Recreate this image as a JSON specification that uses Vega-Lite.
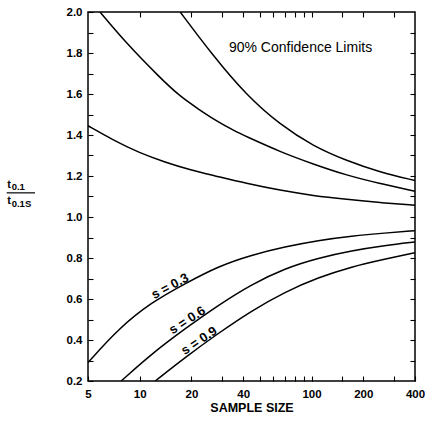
{
  "$schema": "https://vega.github.io/schema/vega-lite/v6.json",
  "width": 327,
  "height": 369,
  "autosize": "none",
  "padding": {"left": 88, "top": 12, "right": 10, "bottom": 43},
  "background": "white",
  "config": {
    "view": {"stroke": "black", "strokeWidth": 1.5},
    "font": "Liberation Sans"
  },
  "datasets": {
    "curves": [
      {"curve": "u03", "n": 5, "r": 1.445},
      {"curve": "u03", "n": 7, "r": 1.375},
      {"curve": "u03", "n": 10, "r": 1.312},
      {"curve": "u03", "n": 14, "r": 1.268},
      {"curve": "u03", "n": 20, "r": 1.228},
      {"curve": "u03", "n": 26.8, "r": 1.203},
      {"curve": "u03", "n": 41.9, "r": 1.163},
      {"curve": "u03", "n": 65.6, "r": 1.13},
      {"curve": "u03", "n": 102.4, "r": 1.104},
      {"curve": "u03", "n": 160.3, "r": 1.086},
      {"curve": "u03", "n": 250.5, "r": 1.07},
      {"curve": "u03", "n": 400, "r": 1.057},

      {"curve": "u06", "n": 5.87, "r": 2.0},
      {"curve": "u06", "n": 8.4, "r": 1.845},
      {"curve": "u06", "n": 13.1, "r": 1.68},
      {"curve": "u06", "n": 17.2, "r": 1.587},
      {"curve": "u06", "n": 22.4, "r": 1.522},
      {"curve": "u06", "n": 26.8, "r": 1.478},
      {"curve": "u06", "n": 35.9, "r": 1.418},
      {"curve": "u06", "n": 41.9, "r": 1.392},
      {"curve": "u06", "n": 65.6, "r": 1.318},
      {"curve": "u06", "n": 102.4, "r": 1.258},
      {"curve": "u06", "n": 160.3, "r": 1.203},
      {"curve": "u06", "n": 250.5, "r": 1.163},
      {"curve": "u06", "n": 400, "r": 1.125},

      {"curve": "u09", "n": 17.2, "r": 2.0},
      {"curve": "u09", "n": 26.8, "r": 1.785},
      {"curve": "u09", "n": 41.9, "r": 1.593},
      {"curve": "u09", "n": 65.6, "r": 1.45},
      {"curve": "u09", "n": 102.4, "r": 1.345},
      {"curve": "u09", "n": 160.3, "r": 1.274},
      {"curve": "u09", "n": 250.5, "r": 1.218},
      {"curve": "u09", "n": 400, "r": 1.178},

      {"curve": "l03", "n": 5, "r": 0.29},
      {"curve": "l03", "n": 7.5, "r": 0.455},
      {"curve": "l03", "n": 11.74, "r": 0.585},
      {"curve": "l03", "n": 18.35, "r": 0.675},
      {"curve": "l03", "n": 28.67, "r": 0.76},
      {"curve": "l03", "n": 44.8, "r": 0.815},
      {"curve": "l03", "n": 70.1, "r": 0.855},
      {"curve": "l03", "n": 109.5, "r": 0.886},
      {"curve": "l03", "n": 171.3, "r": 0.907},
      {"curve": "l03", "n": 267.8, "r": 0.922},
      {"curve": "l03", "n": 400, "r": 0.933},

      {"curve": "l06", "n": 7.8, "r": 0.2},
      {"curve": "l06", "n": 11.74, "r": 0.333},
      {"curve": "l06", "n": 18.35, "r": 0.455},
      {"curve": "l06", "n": 28.67, "r": 0.57},
      {"curve": "l06", "n": 44.8, "r": 0.672},
      {"curve": "l06", "n": 70.1, "r": 0.75},
      {"curve": "l06", "n": 109.5, "r": 0.8},
      {"curve": "l06", "n": 171.3, "r": 0.836},
      {"curve": "l06", "n": 267.8, "r": 0.861},
      {"curve": "l06", "n": 400, "r": 0.878},

      {"curve": "l09", "n": 12.3, "r": 0.2},
      {"curve": "l09", "n": 18.35, "r": 0.315},
      {"curve": "l09", "n": 28.67, "r": 0.433},
      {"curve": "l09", "n": 44.8, "r": 0.543},
      {"curve": "l09", "n": 70.1, "r": 0.635},
      {"curve": "l09", "n": 109.5, "r": 0.705},
      {"curve": "l09", "n": 171.3, "r": 0.758},
      {"curve": "l09", "n": 267.8, "r": 0.795},
      {"curve": "l09", "n": 400, "r": 0.826}
    ],
    "curveLabels": [
      {"label": "s = 0.3", "n": 15.0, "r": 0.662},
      {"label": "s = 0.6", "n": 18.9, "r": 0.496},
      {"label": "s = 0.9", "n": 22.2, "r": 0.396}
    ]
  },
  "resolve": {"axis": {"x": "independent", "y": "independent"}},
  "layer": [
    {
      "data": {"name": "curves"},
      "mark": {"type": "line", "color": "black", "strokeWidth": 1.5, "interpolate": "basis", "clip": true},
      "encoding": {
        "x": {
          "field": "n", "type": "quantitative",
          "scale": {"type": "log", "domain": [5, 400], "nice": false},
          "axis": {
            "orient": "bottom",
            "values": [5, 10, 20, 30, 40, 50, 60, 70, 80, 90, 100, 150, 200, 300, 400],
            "labelExpr": "indexof([5, 10, 20, 40, 100, 200, 400], datum.value) >= 0 ? datum.value : ''",
            "tickSize": -5, "tickColor": "black", "tickWidth": 1.1,
            "domain": false, "grid": false,
            "labelFont": "Liberation Sans", "labelFontWeight": "bold", "labelFontSize": 11.5, "labelColor": "black",
            "labelPadding": 12, "labelFlush": false, "labelOverlap": false, "labelBound": false,
            "title": "SAMPLE SIZE",
            "titleFont": "Liberation Sans", "titleFontWeight": "bold", "titleFontSize": 12.5, "titleColor": "black",
            "titlePadding": 2
          }
        },
        "y": {
          "field": "r", "type": "quantitative",
          "scale": {"domain": [0.2, 2.0], "nice": false, "zero": false},
          "axis": {
            "orient": "left",
            "values": [0.2, 0.3, 0.4, 0.5, 0.6, 0.7, 0.8, 0.9, 1.0, 1.1, 1.2, 1.3, 1.4, 1.5, 1.6, 1.7, 1.8, 1.9, 2.0],
            "labelExpr": "round(datum.value * 10) % 2 == 0 ? format(datum.value, '.1f') : ''",
            "tickSize": -5, "tickColor": "black", "tickWidth": 1.1,
            "domain": false, "grid": false,
            "labelFont": "Liberation Sans", "labelFontWeight": "bold", "labelFontSize": 11.5, "labelColor": "black",
            "labelPadding": 11, "labelFlush": false, "labelOverlap": false, "labelBound": false,
            "title": null
          }
        },
        "detail": {"field": "curve"}
      }
    },
    {
      "data": {"name": "curves"},
      "mark": {"type": "point", "opacity": 0},
      "encoding": {
        "x": {
          "field": "n", "type": "quantitative",
          "scale": {"type": "log", "domain": [5, 400], "nice": false},
          "axis": {
            "orient": "top",
            "values": [10, 20, 30, 40, 50, 60, 70, 80, 90, 100, 150, 200, 300],
            "tickSize": -5, "tickColor": "black", "tickWidth": 1.1,
            "labels": false, "domain": false, "grid": false, "title": null
          }
        },
        "y": {
          "field": "r", "type": "quantitative",
          "scale": {"domain": [0.2, 2.0], "nice": false, "zero": false},
          "axis": {
            "orient": "right",
            "values": [0.3, 0.4, 0.5, 0.6, 0.7, 0.8, 0.9, 1.0, 1.1, 1.2, 1.3, 1.4, 1.5, 1.6, 1.7, 1.8, 1.9],
            "tickSize": -5, "tickColor": "black", "tickWidth": 1.1,
            "labels": false, "domain": false, "grid": false, "title": null
          }
        }
      }
    },
    {
      "data": {"name": "curveLabels"},
      "transform": [{"filter": "datum.label == 's = 0.3'"}],
      "mark": {"type": "text", "angle": -28, "align": "center", "baseline": "middle", "font": "Liberation Sans", "fontWeight": "bold", "fontSize": 13, "color": "black"},
      "encoding": {
        "x": {"field": "n", "type": "quantitative", "scale": {"type": "log", "domain": [5, 400], "nice": false}, "axis": null},
        "y": {"field": "r", "type": "quantitative", "scale": {"domain": [0.2, 2.0], "nice": false, "zero": false}, "axis": null},
        "text": {"field": "label"}
      }
    },
    {
      "data": {"name": "curveLabels"},
      "transform": [{"filter": "datum.label == 's = 0.6'"}],
      "mark": {"type": "text", "angle": -33, "align": "center", "baseline": "middle", "font": "Liberation Sans", "fontWeight": "bold", "fontSize": 13, "color": "black"},
      "encoding": {
        "x": {"field": "n", "type": "quantitative", "scale": {"type": "log", "domain": [5, 400], "nice": false}, "axis": null},
        "y": {"field": "r", "type": "quantitative", "scale": {"domain": [0.2, 2.0], "nice": false, "zero": false}, "axis": null},
        "text": {"field": "label"}
      }
    },
    {
      "data": {"name": "curveLabels"},
      "transform": [{"filter": "datum.label == 's = 0.9'"}],
      "mark": {"type": "text", "angle": -34, "align": "center", "baseline": "middle", "font": "Liberation Sans", "fontWeight": "bold", "fontSize": 13, "color": "black"},
      "encoding": {
        "x": {"field": "n", "type": "quantitative", "scale": {"type": "log", "domain": [5, 400], "nice": false}, "axis": null},
        "y": {"field": "r", "type": "quantitative", "scale": {"domain": [0.2, 2.0], "nice": false, "zero": false}, "axis": null},
        "text": {"field": "label"}
      }
    },
    {
      "data": {"values": [{"caption": "90% Confidence Limits", "n": 86.3, "r": 1.807}]},
      "mark": {"type": "text", "align": "center", "baseline": "alphabetic", "font": "Liberation Sans", "fontSize": 14, "color": "black"},
      "encoding": {
        "x": {"field": "n", "type": "quantitative", "scale": {"type": "log", "domain": [5, 400], "nice": false}, "axis": null},
        "y": {"field": "r", "type": "quantitative", "scale": {"domain": [0.2, 2.0], "nice": false, "zero": false}, "axis": null},
        "text": {"field": "caption"}
      }
    },
    {
      "data": {"values": [{"part": "numerator", "n": 1.695, "r": 1.1411}, {"part": "denominator", "n": 1.695, "r": 1.0642}]},
      "mark": {"type": "text", "align": "left", "baseline": "alphabetic", "font": "Liberation Sans", "fontWeight": "bold", "fontSize": 11, "color": "black", "text": "t"},
      "encoding": {
        "x": {"field": "n", "type": "quantitative", "scale": {"type": "log", "domain": [5, 400], "nice": false}, "axis": null},
        "y": {"field": "r", "type": "quantitative", "scale": {"domain": [0.2, 2.0], "nice": false, "zero": false}, "axis": null}
      }
    },
    {
      "data": {"values": [{"sub": "0.1", "n": 1.798, "r": 1.1314}, {"sub": "0.1S", "n": 1.798, "r": 1.0496}]},
      "mark": {"type": "text", "align": "left", "baseline": "alphabetic", "font": "Liberation Sans", "fontWeight": "bold", "fontSize": 9.5, "color": "black"},
      "encoding": {
        "x": {"field": "n", "type": "quantitative", "scale": {"type": "log", "domain": [5, 400], "nice": false}, "axis": null},
        "y": {"field": "r", "type": "quantitative", "scale": {"domain": [0.2, 2.0], "nice": false, "zero": false}, "axis": null},
        "text": {"field": "sub"}
      }
    },
    {
      "data": {"values": [{"n": 1.681, "n2": 2.458, "r": 1.1178}]},
      "mark": {"type": "rule", "color": "black", "strokeWidth": 1.2},
      "encoding": {
        "x": {"field": "n", "type": "quantitative", "scale": {"type": "log", "domain": [5, 400], "nice": false}, "axis": null},
        "x2": {"field": "n2"},
        "y": {"field": "r", "type": "quantitative", "scale": {"domain": [0.2, 2.0], "nice": false, "zero": false}, "axis": null}
      }
    }
  ]
}
